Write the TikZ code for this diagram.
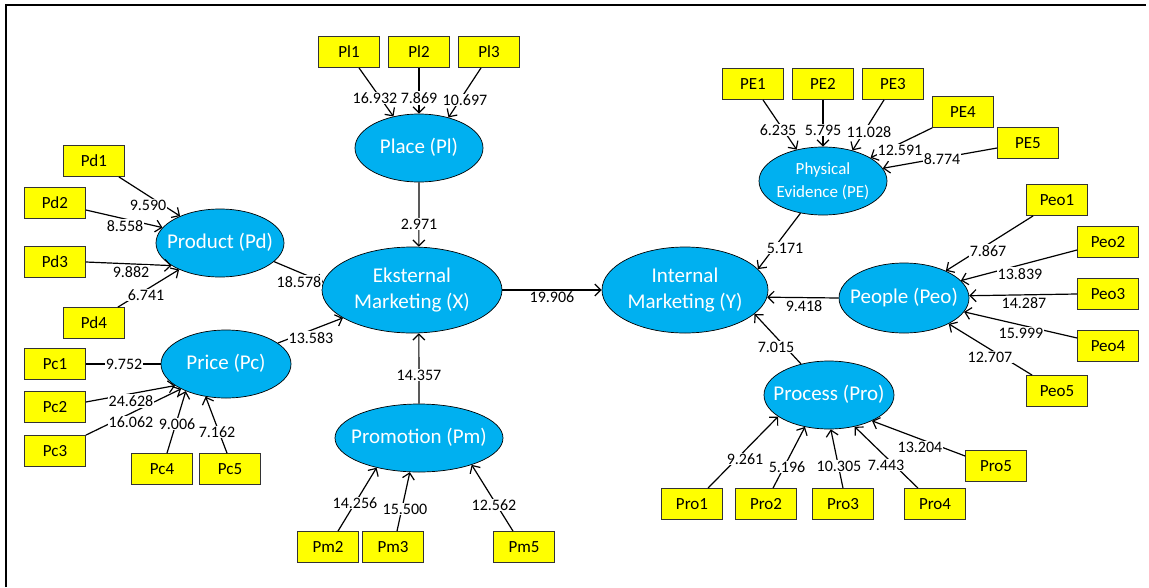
\documentclass[tikz,border=0pt]{standalone}
\usepackage{fontspec}
\setmainfont{Carlito}
\usetikzlibrary{shapes.geometric,arrows.meta}
\definecolor{lvblue}{RGB}{0,176,240}
\definecolor{indyellow}{RGB}{255,255,0}
\newcommand{\lvtext}[1]{\makebox[0pt]{\begin{tabular}{@{}c@{}}#1\end{tabular}}}
\begin{document}
\begin{tikzpicture}[x=1pt,y=-1pt,
 lv/.style={ellipse,draw=black,line width=0.7pt,fill=lvblue,text=white,inner sep=0pt,font=\fontsize{21}{26}\selectfont},
 ind/.style={rectangle,draw=black!80,line width=0.8pt,fill=indyellow,minimum width=61pt,minimum height=31pt,inner sep=0pt,font=\fontsize{17}{20}\selectfont},
 lbl/.style={fill=white,inner sep=1pt,font=\fontsize{16}{19}\selectfont},
 con/.style={line width=1.2pt,-{Straight Barb[length=6pt,width=12pt]}},
 lin/.style={line width=1.2pt}]
\useasboundingbox (0,0) rectangle (1149,587);
\draw[line width=2pt] (6,587) -- (6,5) -- (1146,5);

% latent variables
\node[lv,minimum width=128pt,minimum height=68pt] (pd) at (220,243) {\lvtext{Product (Pd)}};
\node[lv,minimum width=130pt,minimum height=68pt] (pc) at (226,364) {\lvtext{Price (Pc)}};
\node[lv,minimum width=128pt,minimum height=68pt] (pl) at (419,148) {\lvtext{Place (Pl)}};
\node[lv,minimum width=180pt,minimum height=86pt] (ek) at (412,290) {\lvtext{Eksternal\\Marketing (X)}};
\node[lv,minimum width=168pt,minimum height=68pt] (pm) at (419,438) {\lvtext{Promotion (Pm)}};
\node[lv,minimum width=166pt,minimum height=86pt] (in) at (685,290) {\lvtext{Internal\\Marketing (Y)}};
\node[lv,minimum width=128pt,minimum height=68pt,font=\fontsize{17}{23}\selectfont] (pe) at (823,181) {\lvtext{Physical\\Evidence (PE)}};
\node[lv,minimum width=130pt,minimum height=70pt] (peo) at (904,298) {\lvtext{People (Peo)}};
\node[lv,minimum width=130pt,minimum height=68pt] (pro) at (829,395) {\lvtext{Process (Pro)}};

% indicators
\node[ind] (pd1) at (94,161) {Pd1};
\node[ind] (pd2) at (55,203) {Pd2};
\node[ind] (pd3) at (55,262) {Pd3};
\node[ind] (pd4) at (94,323) {Pd4};
\node[ind] (pc1) at (55,364) {Pc1};
\node[ind] (pc2) at (55,407) {Pc2};
\node[ind] (pc3) at (55,451) {Pc3};
\node[ind] (pc4) at (162,469) {Pc4};
\node[ind] (pc5) at (230,469) {Pc5};
\node[ind] (pl1) at (349,52) {Pl1};
\node[ind] (pl2) at (419,52) {Pl2};
\node[ind] (pl3) at (489,52) {Pl3};
\node[ind] (pm2) at (328,547) {Pm2};
\node[ind] (pm3) at (393,547) {Pm3};
\node[ind] (pm5) at (524,547) {Pm5};
\node[ind] (pe1) at (753,84) {PE1};
\node[ind] (pe2) at (823,84) {PE2};
\node[ind] (pe3) at (893,84) {PE3};
\node[ind] (pe4) at (963,112) {PE4};
\node[ind] (pe5) at (1028,143) {PE5};
\node[ind] (peo1) at (1057,200) {Peo1};
\node[ind] (peo2) at (1108,242) {Peo2};
\node[ind] (peo3) at (1108,294) {Peo3};
\node[ind] (peo4) at (1108,346) {Peo4};
\node[ind] (peo5) at (1057,391) {Peo5};
\node[ind] (pro1) at (692,504) {Pro1};
\node[ind] (pro2) at (766,504) {Pro2};
\node[ind] (pro3) at (843,504) {Pro3};
\node[ind] (pro4) at (935,504) {Pro4};
\node[ind] (pro5) at (996,466) {Pro5};

% connectors
\draw[con] ([xshift=-6pt]pd1.south east) -- (pd.146);
\draw[con] ([yshift=-7pt]pd2.east) -- (pd.165);
\draw[con] (pd3.east) -- (pd.205);
\draw[con] ([xshift=-7pt]pd4.north east) -- (pd.213);
\draw[lin] (pc1.east) -- (pc.180);
\draw[con] ([yshift=5pt]pc2.east) -- (pc.203);
\draw[con] (pc3.north east) -- (pc.209);
\draw[con] ([xshift=5pt]pc4.north) -- (pc.214);
\draw[con] ([xshift=-3pt]pc5.north) -- (pc.238);
\draw[con] ([xshift=10pt]pl1.south) -- (pl.129);
\draw[con] (pl2.south) -- (pl.90);
\draw[con] ([xshift=-8pt]pl3.south) -- (pl.46);
\draw[con] ([xshift=10pt]pm2.north) -- (pm.215);
\draw[con] ([xshift=4pt]pm3.north) -- (pm.255);
\draw[con] ([xshift=-11pt]pm5.north) -- (pm.333);
\draw[con] ([xshift=10pt]pe1.south) -- (pe.130);
\draw[con] (pe2.south) -- (pe.90);
\draw[con] ([xshift=-9pt]pe3.south) -- (pe.46);
\draw[con] (pe4.south west) -- (pe.26);
\draw[con] ([yshift=-5pt]pe5.west) -- (pe.12);
\draw[con] ([xshift=7pt]peo1.south west) -- (peo.33);
\draw[con] ([yshift=-8pt]peo2.west) -- (peo.17);
\draw[con] (peo3.west) -- (peo.2);
\draw[con] ([yshift=8pt]peo4.west) -- (peo.347);
\draw[con] ([xshift=6pt]peo5.north west) -- (peo.330);
\draw[con] ([xshift=16pt]pro1.north) -- (pro.203);
\draw[con] ([xshift=7pt]pro2.north) -- (pro.233);
\draw[con] (pro3.north) -- (pro.273);
\draw[con] ([xshift=-17pt]pro4.north) -- (pro.309);
\draw[con] ([yshift=10pt]pro5.west) -- (pro.329);
% structural paths
\draw[con] (pd.-19) -- (ek.175);
\draw[con] (pc.22) -- (ek.202);
\draw[con] (pl.south) -- (ek.81);
\draw[con] (pm.north) -- (ek.279);
\draw[con] (ek.0) -- (in.180);
\draw[con] (pe.235) -- (in.16);
\draw[con] (peo.180) -- (in.355);
\draw[con] (pro.132) -- (in.341);

% labels
\node[lbl] (v1) at (148,205) {9.590};
\node[lbl] (v2) at (125,226) {8.558};
\node[lbl] (v3) at (131,272) {9.882};
\node[lbl] (v4) at (146,295) {6.741};
\node[lbl] (v5) at (299,282) {18.578};
\node[lbl] (v6) at (311,338) {13.583};
\node[lbl] (v7) at (124,364) {9.752};
\node[lbl] (v8) at (131,401) {24.628};
\node[lbl] (v9) at (131,422) {16.062};
\node[lbl] (v10) at (177,424) {9.006};
\node[lbl] (v11) at (217,432) {7.162};
\node[lbl] (v12) at (375,98) {16.932};
\node[lbl] (v13) at (419,98) {7.869};
\node[lbl] (v14) at (465,100) {10.697};
\node[lbl] (v15) at (419,224) {2.971};
\node[lbl] (v16) at (419,375) {14.357};
\node[lbl] (v17) at (355,503) {14.256};
\node[lbl] (v18) at (405,509) {15.500};
\node[lbl] (v19) at (494,505) {12.562};
\node[lbl] (v20) at (552,297) {19.906};
\node[lbl] (v21) at (778,130) {6.235};
\node[lbl] (v22) at (823,130) {5.795};
\node[lbl] (v23) at (869,132) {11.028};
\node[lbl] (v24) at (900,150) {12.591};
\node[lbl] (v25) at (942,159) {8.774};
\node[lbl] (v26) at (785,248) {5.171};
\node[lbl] (v27) at (988,251) {7.867};
\node[lbl] (v28) at (1020,274) {13.839};
\node[lbl] (v29) at (1024,303) {14.287};
\node[lbl] (v30) at (1021,333) {15.999};
\node[lbl] (v31) at (990,357) {12.707};
\node[lbl] (v32) at (804,306) {9.418};
\node[lbl] (v33) at (776,347) {7.015};
\node[lbl] (v34) at (745,459) {9.261};
\node[lbl] (v35) at (787,467) {5.196};
\node[lbl] (v36) at (839,466) {10.305};
\node[lbl] (v37) at (886,465) {7.443};
\node[lbl] (v38) at (920,447) {13.204};
\end{tikzpicture}
\end{document}
